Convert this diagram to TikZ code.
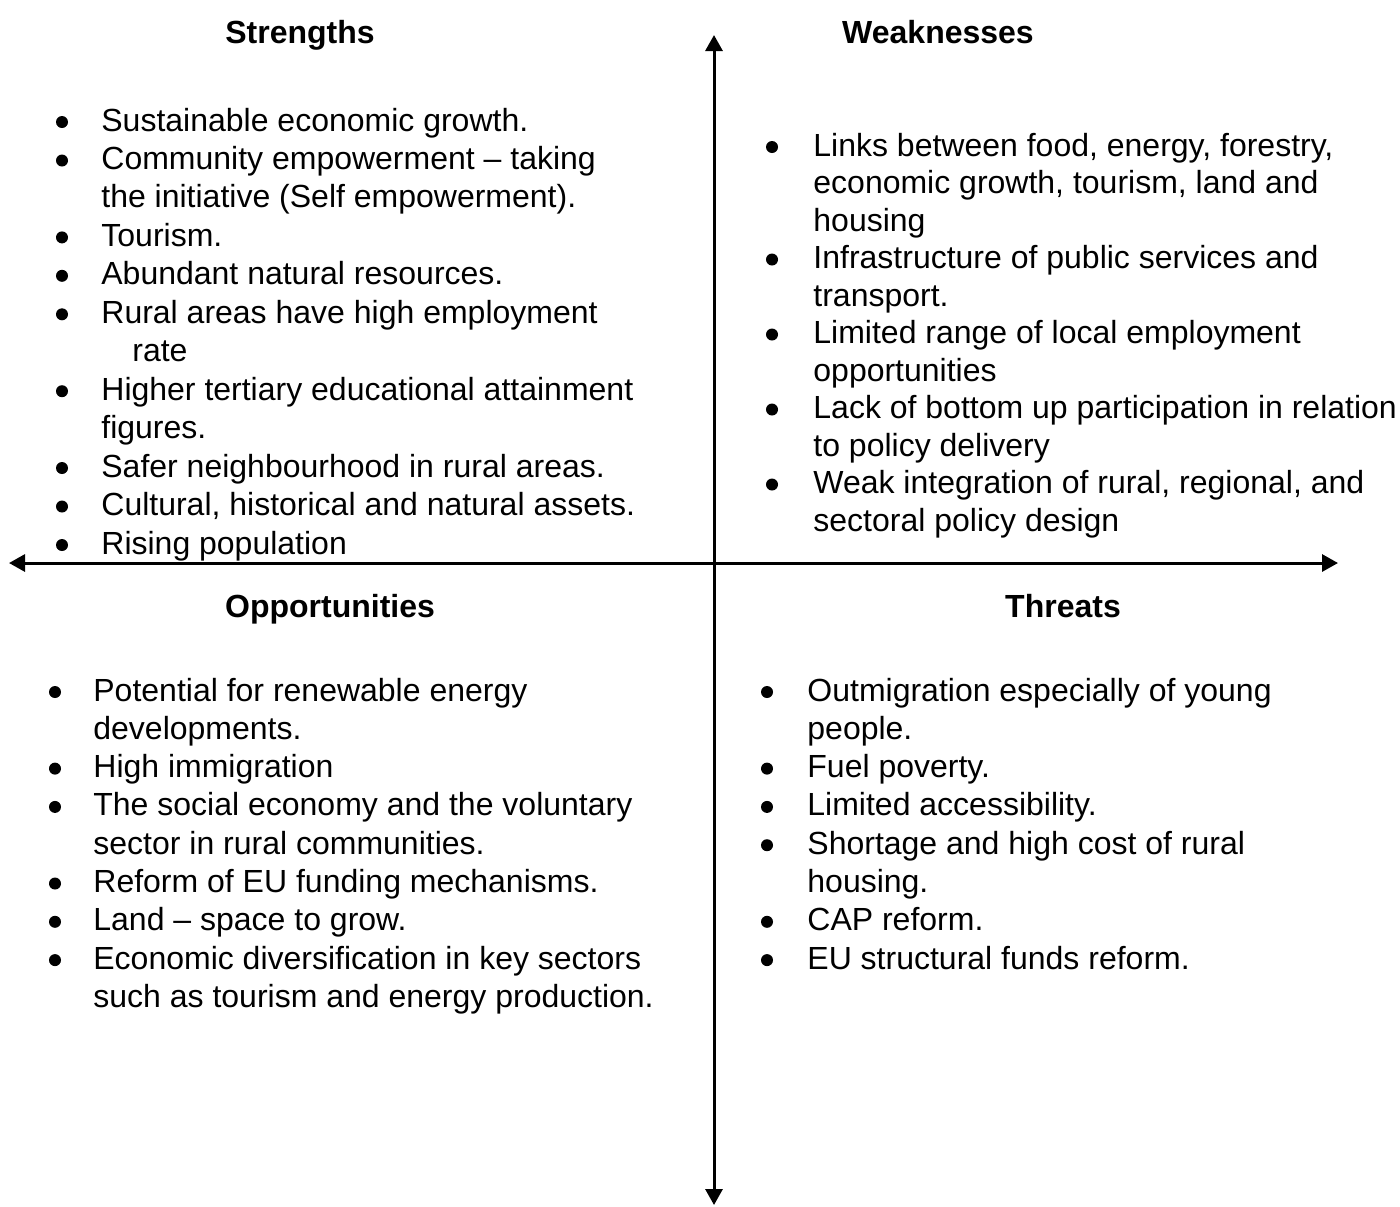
\documentclass[tikz,border=0pt]{standalone}
\usepackage{fontspec}
\setmainfont{Liberation Sans}
\usetikzlibrary{arrows.meta}
\begin{document}
\begin{tikzpicture}[x=0.5pt,y=-0.5pt,
  txt/.style={anchor=base west,inner sep=0pt,font=\fontsize{16}{19}\selectfont},
  ttl/.style={anchor=base,inner sep=0pt,font=\fontsize{16}{19}\selectfont\bfseries},
  bul/.style={circle,fill=black,inner sep=0pt,minimum size=6pt},
  axis/.style={line width=1.5pt,{Triangle[length=8pt,width=8.5pt]}-{Triangle[length=8pt,width=8.5pt]}}]
\useasboundingbox (0,0) rectangle (1400,1206);
% axes
\coordinate (top) at (714,35);
\coordinate (bottom) at (714,1205);
\coordinate (left) at (9,563);
\coordinate (right) at (1338,563);
\draw[axis] (bottom) -- (top);
\draw[axis] (left) -- (right);
% titles
\node[ttl] (tS) at (300,43) {Strengths};
\node[ttl] (tW) at (938,43) {Weaknesses};
\node[ttl] (tO) at (330,617) {Opportunities};
\node[ttl] (tT) at (1063,617) {Threats};
% Strengths
\node[bul] (sb1) at (62,122) {};
\node[txt] (s1) at (101,131) {Sustainable economic growth.};
\node[bul] (sb2) at (62,160.5) {};
\node[txt] (s2) at (101,169.5) {Community empowerment – taking};
\node[txt] (s3) at (101,207.9) {the initiative (Self empowerment).};
\node[bul] (sb4) at (62,237.4) {};
\node[txt] (s4) at (101,246.4) {Tourism.};
\node[bul] (sb5) at (62,275.8) {};
\node[txt] (s5) at (101,284.8) {Abundant natural resources.};
\node[bul] (sb6) at (62,314.3) {};
\node[txt] (s6) at (101,323.3) {Rural areas have high employment};
\node[txt] (s7) at (132,361.7) {rate};
\node[bul] (sb8) at (62,391.2) {};
\node[txt] (s8) at (101,400.2) {Higher tertiary educational attainment};
\node[txt] (s9) at (101,438.6) {figures.};
\node[bul] (sb10) at (62,468) {};
\node[txt] (s10) at (101,477) {Safer neighbourhood in rural areas.};
\node[bul] (sb11) at (62,506.5) {};
\node[txt] (s11) at (101,515.5) {Cultural, historical and natural assets.};
\node[bul] (sb12) at (62,545) {};
\node[txt] (s12) at (101,554) {Rising population};
% Weaknesses
\node[bul] (wb1) at (772,147) {};
\node[txt] (w1) at (813,156) {Links between food, energy, forestry,};
\node[txt] (w2) at (813,193.5) {economic growth, tourism, land and};
\node[txt] (w3) at (813,231) {housing};
\node[bul] (wb4) at (772,259.5) {};
\node[txt] (w4) at (813,268.5) {Infrastructure of public services and};
\node[txt] (w5) at (813,306) {transport.};
\node[bul] (wb6) at (772,334.5) {};
\node[txt] (w6) at (813,343.5) {Limited range of local employment};
\node[txt] (w7) at (813,381) {opportunities};
\node[bul] (wb8) at (772,409.5) {};
\node[txt] (w8) at (813,418.5) {Lack of bottom up participation in relation};
\node[txt] (w9) at (813,456) {to policy delivery};
\node[bul] (wb10) at (772,484.5) {};
\node[txt] (w10) at (813,493.5) {Weak integration of rural, regional, and};
\node[txt] (w11) at (813,531) {sectoral policy design};
% Opportunities
\node[bul] (ob1) at (55,692) {};
\node[txt] (o1) at (93,701) {Potential for renewable energy};
\node[txt] (o2) at (93,739.3) {developments.};
\node[bul] (ob3) at (55,768.6) {};
\node[txt] (o3) at (93,777.6) {High immigration};
\node[bul] (ob4) at (55,806.9) {};
\node[txt] (o4) at (93,815.9) {The social economy and the voluntary};
\node[txt] (o5) at (93,854.2) {sector in rural communities.};
\node[bul] (ob6) at (55,883.5) {};
\node[txt] (o6) at (93,892.5) {Reform of EU funding mechanisms.};
\node[bul] (ob7) at (55,921.8) {};
\node[txt] (o7) at (93,930.8) {Land – space to grow.};
\node[bul] (ob8) at (55,960.1) {};
\node[txt] (o8) at (93,969.1) {Economic diversification in key sectors};
\node[txt] (o9) at (93,1007.4) {such as tourism and energy production.};
% Threats
\node[bul] (thb1) at (767,692) {};
\node[txt] (th1) at (807,701) {Outmigration especially of young};
\node[txt] (th2) at (807,739.3) {people.};
\node[bul] (thb3) at (767,768.6) {};
\node[txt] (th3) at (807,777.6) {Fuel poverty.};
\node[bul] (thb4) at (767,806.9) {};
\node[txt] (th4) at (807,815.9) {Limited accessibility.};
\node[bul] (thb5) at (767,845.2) {};
\node[txt] (th5) at (807,854.2) {Shortage and high cost of rural};
\node[txt] (th6) at (807,892.5) {housing.};
\node[bul] (thb7) at (767,921.8) {};
\node[txt] (th7) at (807,930.8) {CAP reform.};
\node[bul] (thb8) at (767,960.1) {};
\node[txt] (th8) at (807,969.1) {EU structural funds reform.};
\end{tikzpicture}
\end{document}
